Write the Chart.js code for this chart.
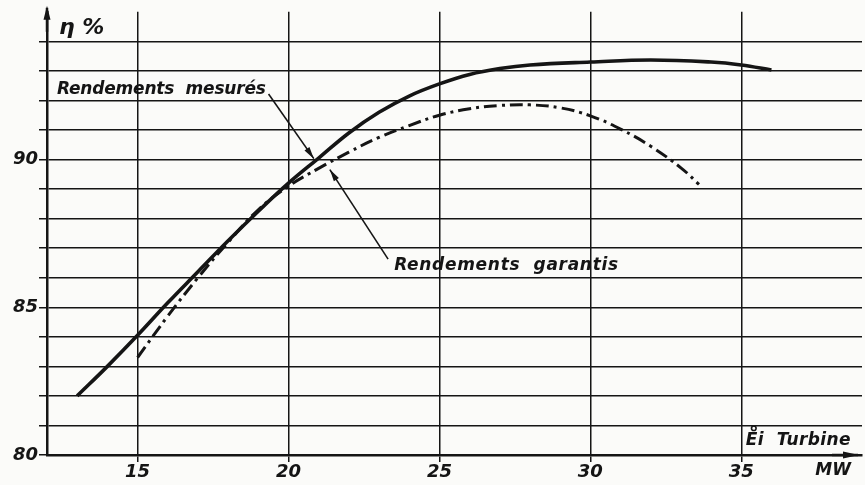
<!DOCTYPE html>
<html>
<head>
<meta charset="utf-8">
<script src="https://cdn.jsdelivr.net/npm/chart.js@4.4.1/dist/chart.umd.min.js"></script>
<style>
  html,body{margin:0;padding:0;background:#fbfbf9;}
  canvas{display:block;}
</style>
</head>
<body>
<canvas id="chart" width="865" height="485"></canvas>
<script>
// values (x = MW, y = efficiency %)
const measuredX = [13, 14, 15, 16, 17, 18, 19, 20, 21, 22, 23, 24, 25, 26, 27, 28, 30, 32, 34, 35, 36];
const measuredY = [82, 83.0, 84.05, 85.15, 86.2, 87.25, 88.25, 89.2, 90.05, 90.9, 91.6, 92.15, 92.56, 92.88, 93.08, 93.2, 93.3, 93.37, 93.3, 93.2, 93.03];
const guaranteedX = [15, 16, 17, 18, 19, 20, 21, 22, 23, 24, 25, 26, 27, 28, 29, 30, 31, 32, 33, 33.6];
const guaranteedY = [83.3, 84.7, 86.0, 87.2, 88.3, 89.1, 89.7, 90.25, 90.75, 91.15, 91.5, 91.72, 91.83, 91.85, 91.75, 91.48, 91.03, 90.45, 89.72, 89.16];
const xTicks = [15, 20, 25, 30, 35];
const yLabelled = [80, 85, 90];

const ink = '#151515';
const handFont = '"DejaVu Sans", sans-serif';

const toPoints = (xs, ys) => xs.map((x, i) => ({x: x, y: ys[i]}));

// leader notes (data coordinates)
const notes = [
  {text: 'Rendements  mesurés', at: [12.33, 92.36], from: [19.34, 92.22], to: [20.84, 90.03], spacing: '-0.2px'},
  {text: 'Rendements  garantis', at: [23.5, 86.4], from: [23.3, 86.63], to: [21.37, 89.66], spacing: '0.7px'}
];

function arrowHead(ctx, x1, y1, x2, y2, len, half) {
  const a = Math.atan2(y2 - y1, x2 - x1);
  ctx.beginPath();
  ctx.moveTo(x2, y2);
  ctx.lineTo(x2 - len*Math.cos(a) + half*Math.sin(a), y2 - len*Math.sin(a) - half*Math.cos(a));
  ctx.lineTo(x2 - len*Math.cos(a) - half*Math.sin(a), y2 - len*Math.sin(a) + half*Math.cos(a));
  ctx.closePath();
  ctx.fill();
}

const sketchPlugin = {
  id: 'sketch',
  afterDraw(chart) {
    const ctx = chart.ctx;
    const xs = chart.scales.x, ys = chart.scales.y;
    const area = chart.chartArea;
    ctx.save();
    ctx.fillStyle = ink;
    ctx.strokeStyle = ink;

    // axis arrows
    ctx.lineWidth = 2.5;
    ctx.beginPath();
    ctx.moveTo(area.left, area.top + 20);
    ctx.lineTo(area.left, area.top - 4);
    ctx.stroke();
    arrowHead(ctx, area.left, area.top + 10, area.left, area.top - 6, 14, 3.5);
    ctx.beginPath();
    ctx.moveTo(area.right - 30, area.bottom);
    ctx.lineTo(area.right - 4, area.bottom);
    ctx.stroke();
    arrowHead(ctx, area.right - 20, area.bottom, area.right - 3, area.bottom, 16, 3.5);

    // axis titles
    ctx.font = 'bold italic 22px ' + handFont;
    ctx.textBaseline = 'middle';
    ctx.textAlign = 'left';
    ctx.fillText('η %', area.left + 12, area.top + 16);
    ctx.font = 'bold italic 17px ' + handFont;
    const ex = xs.getPixelForValue(35.15), ey = ys.getPixelForValue(80.5);
    ctx.letterSpacing = '0.4px';
    ctx.fillText('Ei  Turbine', ex, ey);
    ctx.letterSpacing = '0px';
    ctx.lineWidth = 1.6;
    ctx.beginPath();
    ctx.arc(ex + 8, ey - 12, 2.3, 0, Math.PI * 2);
    ctx.stroke();
    ctx.fillText('MW', xs.getPixelForValue(37.45), area.bottom + 16);

    // notes with leader lines
    ctx.font = 'bold italic 17px ' + handFont;
    notes.forEach(n => {
      ctx.letterSpacing = n.spacing;
      ctx.fillText(n.text, xs.getPixelForValue(n.at[0]), ys.getPixelForValue(n.at[1]));
      ctx.letterSpacing = '0px';
      const x1 = xs.getPixelForValue(n.from[0]), y1 = ys.getPixelForValue(n.from[1]);
      const x2 = xs.getPixelForValue(n.to[0]), y2 = ys.getPixelForValue(n.to[1]);
      ctx.lineWidth = 1.6;
      ctx.beginPath();
      ctx.moveTo(x1, y1);
      ctx.lineTo(x2, y2);
      ctx.stroke();
      arrowHead(ctx, x1, y1, x2, y2, 12, 3);
    });
    ctx.restore();
  }
};

new Chart(document.getElementById('chart').getContext('2d'), {
  type: 'line',
  data: {
    datasets: [
      {
        label: 'Rendements mesurés',
        data: toPoints(measuredX, measuredY),
        borderColor: ink,
        borderWidth: 3.6,
        pointRadius: 0,
        tension: 0.4,
        fill: false
      },
      {
        label: 'Rendements garantis',
        data: toPoints(guaranteedX, guaranteedY),
        borderColor: ink,
        borderWidth: 3,
        borderDash: [13, 5, 3, 5],
        pointRadius: 0,
        tension: 0.4,
        fill: false
      }
    ]
  },
  options: {
    responsive: false,
    animation: false,
    layout: {padding: {top: 10, right: 3, left: 0, bottom: 0}},
    plugins: {legend: {display: false}, tooltip: {enabled: false}},
    scales: {
      x: {
        type: 'linear',
        min: 12,
        max: 39,
        afterBuildTicks: s => { s.ticks = xTicks.map(v => ({value: v})); },
        afterFit: s => { s.height = 30; },
        grid: {color: ink, lineWidth: 1.5, tickLength: 7, drawOnChartArea: true},
        border: {display: true, color: ink, width: 2.5},
        ticks: {
          color: ink,
          padding: 0,
          maxRotation: 0,
          font: {family: handFont, size: 18, weight: 'bold', style: 'italic'},
          callback: v => String(v)
        }
      },
      y: {
        min: 80,
        max: 95,
        afterFit: s => { s.width = 47; },
        grid: {
          color: c => (c.tick && c.tick.value === 95) ? 'rgba(0,0,0,0)' : ink,
          lineWidth: 1.5,
          tickLength: 8
        },
        border: {display: true, color: ink, width: 2.5},
        ticks: {
          stepSize: 1,
          color: ink,
          padding: 1,
          font: {family: handFont, size: 18, weight: 'bold', style: 'italic'},
          callback: v => yLabelled.includes(v) ? String(v) : ''
        }
      }
    }
  },
  plugins: [sketchPlugin]
});
</script>
</body>
</html>
